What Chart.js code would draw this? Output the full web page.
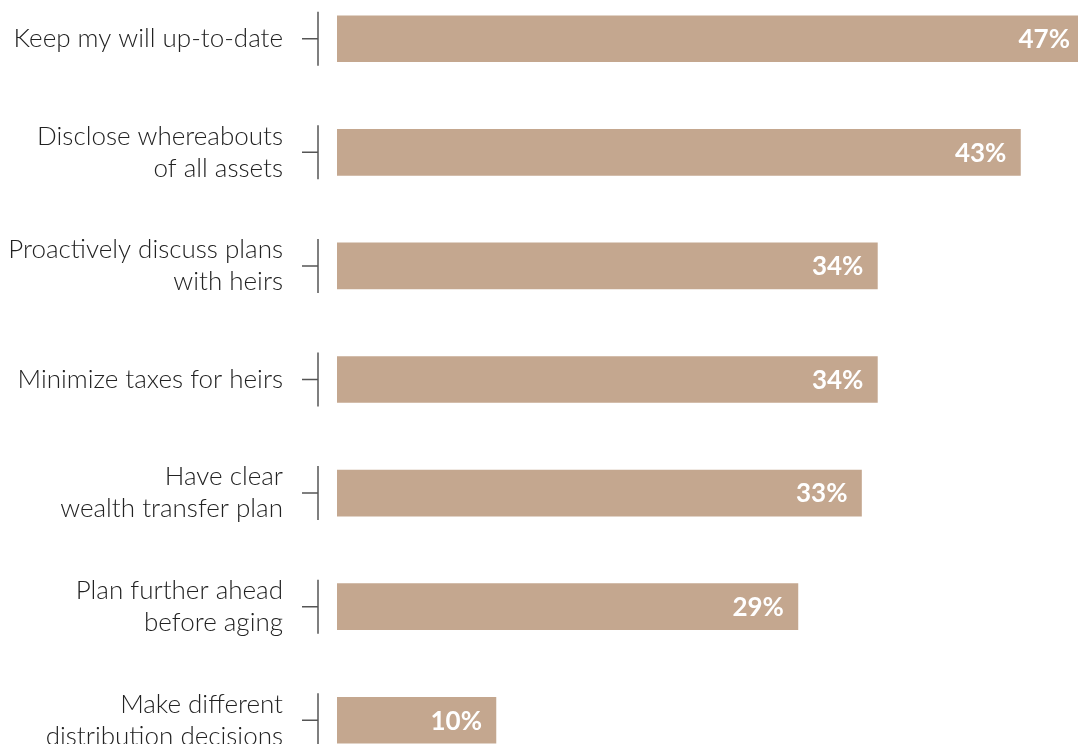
<!DOCTYPE html>
<html lang="en">
<head>
    <title>Estate planning priorities</title>
    <script src="https://cdn.jsdelivr.net/npm/chart.js"></script>
    <style>
        html, body { margin: 0; padding: 0; background: #fff; overflow: hidden; }
        #wrap { position: relative; width: 1084px; height: 795px; top: -18px; }
    </style>
</head>
<body>
    <div id="wrap">
        <canvas id="planChart"></canvas>
    </div>

    <script>
        var labels = [
            'Keep my will up-to-date',
            ['Disclose whereabouts', 'of all assets'],
            ['Proactively discuss plans', 'with heirs'],
            'Minimize taxes for heirs',
            ['Have clear', 'wealth transfer plan'],
            ['Plan further ahead', 'before aging'],
            ['Make different', 'distribution decisions']
        ];
        var shares = [47, 43, 34, 34, 33, 29, 10];

        var barColor = '#c4a78f';
        var textColor = '#222222';
        var fontFamily = 'Lato, "Open Sans", sans-serif';

        // bracket next to each category: short tick plus vertical line
        var bracketPlugin = {
            id: 'brackets',
            afterDraw: function(chart) {
                var ctx = chart.ctx;
                var y = chart.scales.y;
                var left = chart.chartArea.left;
                ctx.save();
                ctx.strokeStyle = '#555555';
                ctx.lineWidth = 1.5;
                for (var i = 0; i < labels.length; i++) {
                    var py = y.getPixelForValue(i);
                    ctx.beginPath();
                    ctx.moveTo(left - 19, py - 27);
                    ctx.lineTo(left - 19, py + 27);
                    ctx.moveTo(left - 35, py);
                    ctx.lineTo(left - 19, py);
                    ctx.stroke();
                }
                ctx.restore();
            }
        };

        // percentage written inside the right end of each bar
        var valuePlugin = {
            id: 'values',
            afterDatasetsDraw: function(chart) {
                var ctx = chart.ctx;
                var meta = chart.getDatasetMeta(0);
                ctx.save();
                ctx.fillStyle = '#ffffff';
                ctx.font = 'bold 26px ' + fontFamily;
                ctx.textAlign = 'right';
                ctx.textBaseline = 'middle';
                meta.data.forEach(function(bar, i) {
                    ctx.fillText(shares[i] + '%', bar.x - 14, bar.y + 1);
                });
                ctx.restore();
            }
        };

        var ctx = document.getElementById('planChart').getContext('2d');
        var planChart = new Chart(ctx, {
            type: 'bar',
            data: {
                labels: labels,
                datasets: [{
                    data: shares,
                    backgroundColor: barColor,
                    borderWidth: 0,
                    barThickness: 46
                }]
            },
            options: {
                indexAxis: 'y',
                responsive: true,
                maintainAspectRatio: false,
                animation: false,
                layout: { padding: 0 },
                plugins: {
                    legend: { display: false },
                    tooltip: { enabled: false }
                },
                scales: {
                    x: {
                        display: false,
                        min: 0,
                        max: 47
                    },
                    y: {
                        border: { display: false },
                        grid: { display: false, drawTicks: false },
                        afterFit: function(scale) {
                            scale.width = 337;
                            scale.paddingTop = 0;
                            scale.paddingBottom = 0;
                        },
                        ticks: {
                            padding: 54,
                            color: textColor,
                            font: { family: fontFamily, size: 26, weight: 300, lineHeight: 1.23 }
                        }
                    }
                }
            },
            plugins: [bracketPlugin, valuePlugin]
        });
    </script>
</body>
</html>
